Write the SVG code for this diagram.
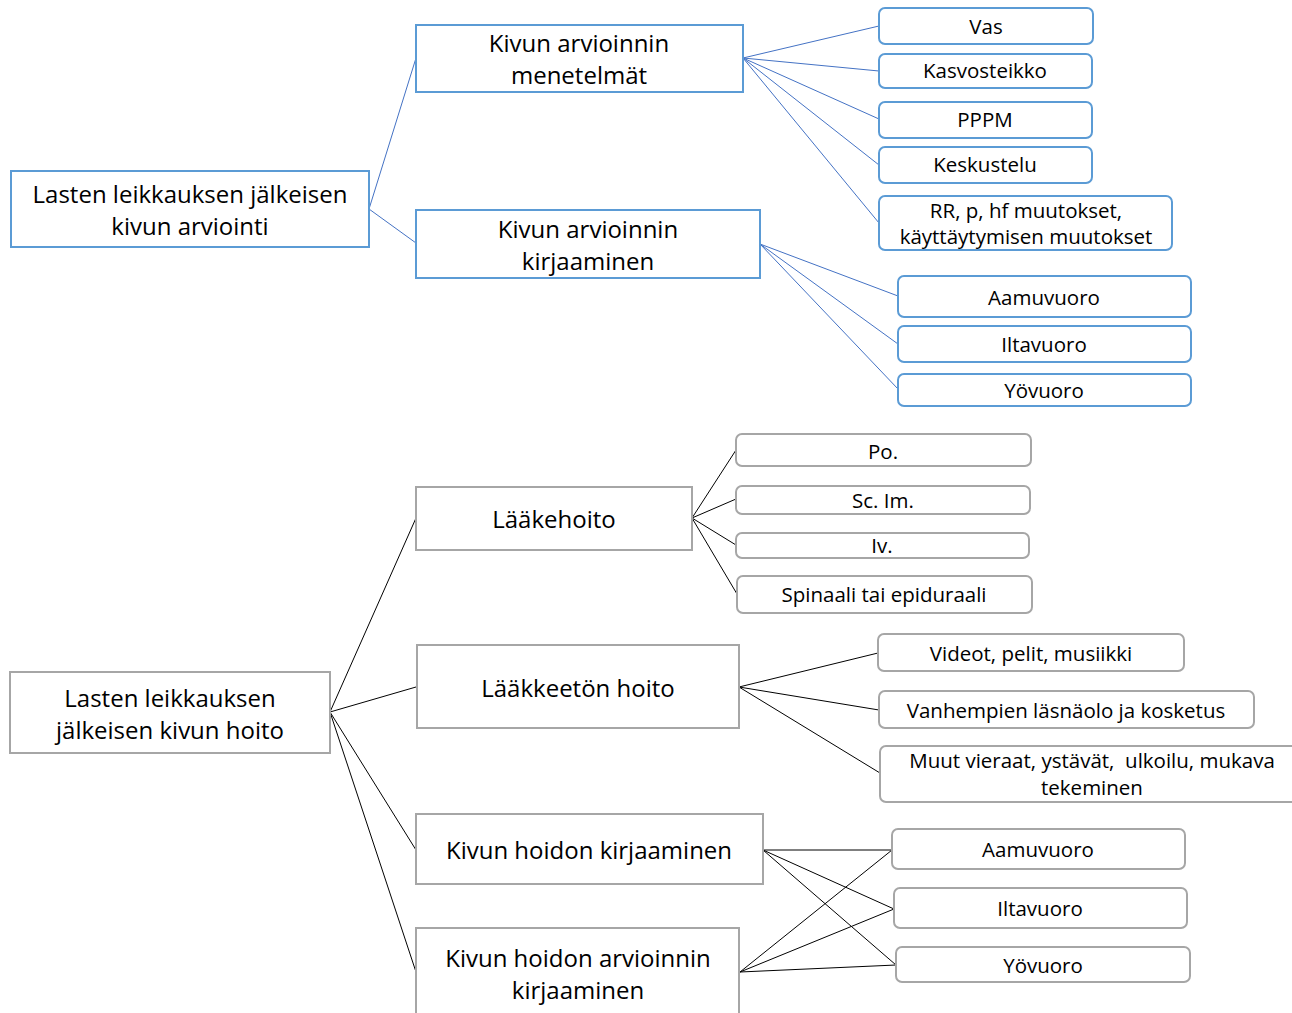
<svg xmlns="http://www.w3.org/2000/svg" width="1292" height="1013" viewBox="0 0 1292 1013">
<style>
text{font-family:"Open Sans",Lato,sans-serif;fill:#000;text-anchor:middle;dominant-baseline:central}
.m{font-size:24px}
.l{font-size:20.5px}
.bm{fill:#fff;stroke:#5B9BD5;stroke-width:2}
.gm{fill:#fff;stroke:#A6A6A6;stroke-width:2}
.bc line{stroke:#4472C4;stroke-width:1}
.kc line{stroke:#000;stroke-width:1}
</style>
<rect width="1292" height="1013" fill="#fff"/>
<g id="connectors">
<g class="bc">
<line x1="369" y1="209" x2="416" y2="58"/>
<line x1="369" y1="209" x2="416" y2="243"/>
<line x1="743" y1="58" x2="879" y2="26"/>
<line x1="743" y1="58" x2="879" y2="71"/>
<line x1="743" y1="58" x2="879" y2="119"/>
<line x1="743" y1="58" x2="879" y2="165"/>
<line x1="743" y1="58" x2="879" y2="223"/>
<line x1="760" y1="244" x2="898" y2="296"/>
<line x1="760" y1="244" x2="898" y2="344"/>
<line x1="760" y1="244" x2="898" y2="389"/>
</g>
<g class="kc">
<line x1="330" y1="712" x2="416" y2="518"/>
<line x1="330" y1="712" x2="416" y2="687"/>
<line x1="330" y1="712" x2="416" y2="850"/>
<line x1="330" y1="712" x2="416" y2="972"/>
<line x1="692" y1="518" x2="736" y2="450"/>
<line x1="692" y1="518" x2="736" y2="499"/>
<line x1="692" y1="518" x2="736" y2="545"/>
<line x1="692" y1="518" x2="737" y2="594"/>
<line x1="739" y1="687" x2="878" y2="653"/>
<line x1="739" y1="687" x2="879" y2="710"/>
<line x1="739" y1="687" x2="880" y2="773"/>
<line x1="763" y1="850" x2="892" y2="850"/>
<line x1="763" y1="850" x2="894" y2="909"/>
<line x1="763" y1="850" x2="896" y2="965"/>
<line x1="740" y1="972" x2="892" y2="850"/>
<line x1="740" y1="972" x2="894" y2="909"/>
<line x1="740" y1="972" x2="896" y2="965"/>
</g>
</g>
<g id="n-arviointi"><rect class="bm" x="11" y="171" width="358" height="76"/><text class="m" x="190" y="193">Lasten leikkauksen jälkeisen</text><text class="m" x="190" y="225">kivun arviointi</text></g>
<g id="n-menetelmat"><rect class="bm" x="416" y="25" width="327" height="67"/><text class="m" x="579" y="42">Kivun arvioinnin</text><text class="m" x="579" y="74">menetelmät</text></g>
<g id="n-kirjaaminen"><rect class="bm" x="416" y="210" width="344" height="68"/><text class="m" x="588" y="228">Kivun arvioinnin</text><text class="m" x="588" y="260">kirjaaminen</text></g>
<g id="n-vas"><rect class="bm" x="879" y="8" width="214" height="36" rx="6"/><text class="l" x="986" y="26">Vas</text></g>
<g id="n-kasvo"><rect class="bm" x="879" y="54" width="213" height="34" rx="6"/><text class="l" x="985" y="70">Kasvosteikko</text></g>
<g id="n-pppm"><rect class="bm" x="879" y="102" width="213" height="36" rx="6"/><text class="l" x="985" y="119">PPPM</text></g>
<g id="n-kesk"><rect class="bm" x="879" y="147" width="213" height="36" rx="6"/><text class="l" x="985" y="164">Keskustelu</text></g>
<g id="n-rr"><rect class="bm" x="879" y="196" width="293" height="54" rx="6"/><text class="l" x="1026" y="210">RR, p, hf muutokset,</text><text class="l" x="1026" y="236">käyttäytymisen muutokset</text></g>
<g id="n-aamu1"><rect class="bm" x="898" y="276" width="293" height="41" rx="6"/><text class="l" x="1044" y="297">Aamuvuoro</text></g>
<g id="n-ilta1"><rect class="bm" x="898" y="326" width="293" height="36" rx="6"/><text class="l" x="1044" y="344">Iltavuoro</text></g>
<g id="n-yo1"><rect class="bm" x="898" y="374" width="293" height="32" rx="6"/><text class="l" x="1044" y="390">Yövuoro</text></g>
<g id="n-hoito"><rect class="gm" x="10" y="672" width="320" height="81"/><text class="m" x="170" y="697">Lasten leikkauksen</text><text class="m" x="170" y="729">jälkeisen kivun hoito</text></g>
<g id="n-laake"><rect class="gm" x="416" y="487" width="276" height="63"/><text class="m" x="554" y="518">Lääkehoito</text></g>
<g id="n-laaketon"><rect class="gm" x="417" y="645" width="322" height="83"/><text class="m" x="578" y="687">Lääkkeetön hoito</text></g>
<g id="n-hkirj"><rect class="gm" x="416" y="814" width="347" height="70"/><text class="m" x="589" y="849">Kivun hoidon kirjaaminen</text></g>
<g id="n-harv"><rect class="gm" x="416" y="928" width="323" height="100"/><text class="m" x="578" y="957">Kivun hoidon arvioinnin</text><text class="m" x="578" y="989">kirjaaminen</text></g>
<g id="n-po"><rect class="gm" x="736" y="434" width="295" height="32" rx="6"/><text class="l" x="883" y="451">Po.</text></g>
<g id="n-sc"><rect class="gm" x="736" y="486" width="294" height="28" rx="6"/><text class="l" x="883" y="500">Sc. Im.</text></g>
<g id="n-iv"><rect class="gm" x="736" y="533" width="293" height="25" rx="6"/><text class="l" x="882" y="545">Iv.</text></g>
<g id="n-spin"><rect class="gm" x="737" y="576" width="295" height="37" rx="6"/><text class="l" x="884" y="594">Spinaali tai epiduraali</text></g>
<g id="n-videot"><rect class="gm" x="878" y="634" width="306" height="37" rx="6"/><text class="l" x="1031" y="653">Videot, pelit, musiikki</text></g>
<g id="n-vanh"><rect class="gm" x="879" y="691" width="375" height="37" rx="6"/><text class="l" x="1066" y="710">Vanhempien läsnäolo ja kosketus</text></g>
<g id="n-muut"><rect class="gm" x="880" y="746" width="420" height="56" rx="6"/><text class="l" x="1092" y="760" xml:space="preserve">Muut vieraat, ystävät,  ulkoilu, mukava</text><text class="l" x="1092" y="787">tekeminen</text></g>
<g id="n-aamu2"><rect class="gm" x="892" y="829" width="293" height="40" rx="6"/><text class="l" x="1038" y="849">Aamuvuoro</text></g>
<g id="n-ilta2"><rect class="gm" x="894" y="888" width="293" height="40" rx="6"/><text class="l" x="1040" y="908">Iltavuoro</text></g>
<g id="n-yo2"><rect class="gm" x="896" y="947" width="294" height="35" rx="6"/><text class="l" x="1043" y="965">Yövuoro</text></g>
</svg>
